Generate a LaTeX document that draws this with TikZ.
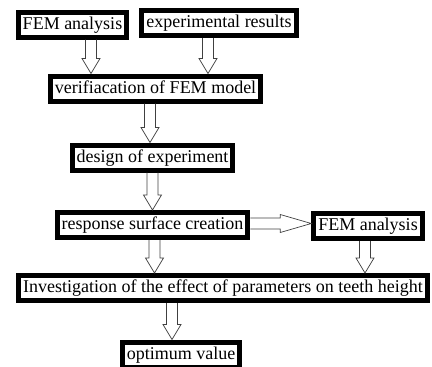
\documentclass[tikz,border=0pt]{standalone}
\usepackage{fontspec}
\setmainfont{Liberation Serif}
\usepackage{tikz}
\usetikzlibrary{calc}

\tikzset{
	stage/.style={draw, line width=5pt, fill=white, inner xsep=4.5pt, inner ysep=4pt,
		text height=13pt, text depth=4pt, font=\fontsize{18}{20}\selectfont},
	fatline/.style={line width=0.7pt, draw=black!75, line join=miter},
}

% hollow block arrow from #2 to #3, head length #1
\newcommand{\fatarrow}[3][15]{%
	\draw[fatline] let \p1=(#2), \p2=(#3), \n1={atan2(\y2-\y1,\x2-\x1)}, \n2={veclen(\x2-\x1,\y2-\y1)} in
		[shift={(\p1)}, rotate=\n1]
		(0,5.5) -- (\n2-#1,5.5) -- (\n2-#1,9) -- (\n2,0) -- (\n2-#1,-9) -- (\n2-#1,-5.5) -- (0,-5.5) ;
}

\begin{document}
\begin{tikzpicture}[x=1pt,y=1pt] %
		\useasboundingbox (0,0) rectangle (432,-367) ;
		% Inputs
		\node[stage] (FEM) at (72.5,-24.5) {FEM analysis} ;
		\node[stage] (Results) at (219,-23) {experimental results} ;
		\node[stage] (Verify) at (155.5,-88.5) {verifiacation of FEM model} ;
		% Main chain
		\node[stage] (Design) at (152.5,-157.5) {design of experiment} ;
		\node[stage] (Surface) at (152.5,-225) {response surface creation} ;
		\node[stage] (FEMtwo) at (368,-226) {FEM analysis} ;
		\node[stage] (Effect) at (223,-288) {Investigation of the effect of parameters on teeth height} ;
		\node[stage] (Optimum) at (181,-354.5) {optimum value} ;
		% arrow feet
		\coordinate (a1) at ($(FEM.south)+(18.5,0)$) ;
		\coordinate (a2) at ($(Results.south)+(-11,0)$) ;
		\coordinate (a3) at ($(Verify.south)+(-5.5,0)$) ;
		\coordinate (a4) at (Design.south) ;
		\coordinate (a5) at ($(Surface.south)+(2,0)$) ;
		\coordinate (a6) at ($(FEMtwo.south)+(-3,0)$) ;
		\coordinate (a7) at ($(Effect.south)+(-51,0)$) ;
		\coordinate (h1) at ($(Surface.east)+(0,1.5)$) ;
		\fatarrow{a1}{a1 |- Verify.north}
		\fatarrow{a2}{a2 |- Verify.north}
		\fatarrow{a3}{a3 |- Design.north}
		\fatarrow{a4}{a4 |- Surface.north}
		\fatarrow{a5}{a5 |- Effect.north}
		\fatarrow{a6}{a6 |- Effect.north}
		\fatarrow{a7}{a7 |- Optimum.north}
		% Surface-FEM link
		\fatarrow[31]{h1}{h1 -| FEMtwo.west}
	\end{tikzpicture}
\end{document}
